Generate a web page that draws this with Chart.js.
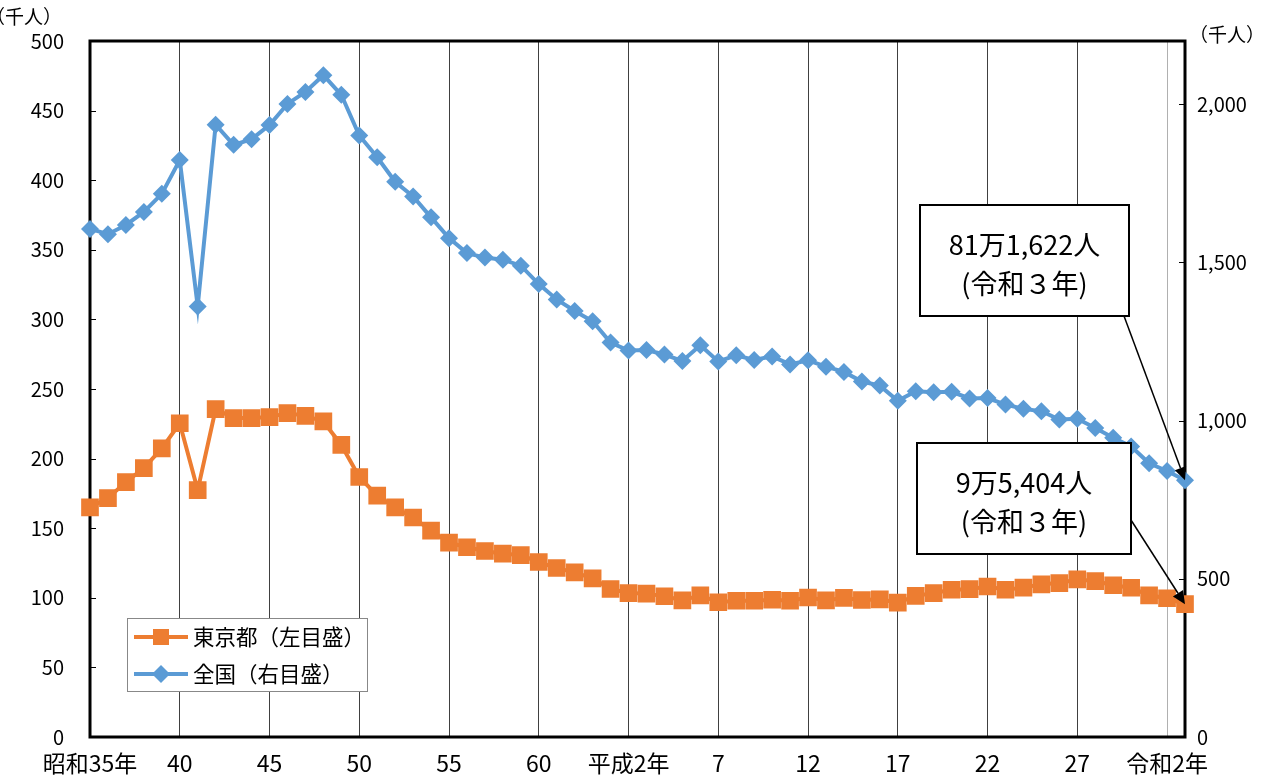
<!DOCTYPE html>
<html>
<head>
<meta charset="utf-8">
<script src="https://cdn.jsdelivr.net/npm/chart.js@4.4.1/dist/chart.umd.min.js"></script>
<style>
  html, body { margin: 0; padding: 0; background: #fff; }
</style>
</head>
<body>
<canvas id="myChart" width="1270" height="778"></canvas>
<script>
// DATA (births, thousand persons)
const years = [1960,1961,1962,1963,1964,1965,1966,1967,1968,1969,
               1970,1971,1972,1973,1974,1975,1976,1977,1978,1979,
               1980,1981,1982,1983,1984,1985,1986,1987,1988,1989,
               1990,1991,1992,1993,1994,1995,1996,1997,1998,1999,
               2000,2001,2002,2003,2004,2005,2006,2007,2008,2009,
               2010,2011,2012,2013,2014,2015,2016,2017,2018,2019,
               2020,2021];

const tickLabels = {1960:'昭和35年',1965:'40',1970:'45',1975:'50',1980:'55',1985:'60',
                    1990:'平成2年',1995:'7',2000:'12',2005:'17',2010:'22',2015:'27',2020:'令和2年'};

const rightTicks = [0, 500, 1000, 1500, 2000];

const tokyo = [165.0,171.6,183.1,193.2,207.3,225.4,177.4,235.6,229.1,229.1,
               229.8,232.7,230.7,226.7,209.8,186.8,173.4,164.9,157.7,148.2,
               139.6,136.3,133.6,131.7,130.7,125.7,121.4,118.3,114.0,106.3,
               103.4,103.0,101.1,98.2,101.8,96.8,97.9,97.9,98.6,97.9,
               100.2,98.2,99.9,98.4,98.9,96.5,101.4,103.4,105.8,106.2,
               108.1,105.8,107.3,109.7,110.6,113.2,112.0,109.0,107.2,101.8,
               99.7,95.4];

const national = [1606.0,1589.4,1618.6,1659.5,1716.8,1823.7,1361.0,1935.6,1871.8,1889.8,
                  1934.2,2001.0,2038.7,2092.0,2030.0,1901.4,1832.6,1755.1,1708.6,1642.6,
                  1576.9,1529.5,1515.4,1508.7,1489.8,1431.6,1382.9,1346.7,1314.0,1246.8,
                  1221.6,1223.2,1209.0,1188.3,1238.3,1187.1,1206.6,1191.7,1203.1,1177.7,
                  1190.5,1170.7,1153.9,1123.6,1110.7,1062.5,1092.7,1089.8,1091.2,1070.0,
                  1071.3,1050.8,1037.2,1029.8,1003.5,1005.7,977.0,946.1,918.4,865.2,
                  840.8,811.6];

const seriesNames = ['東京都（左目盛）', '全国（右目盛）'];
const notes = [['81万1,622人', '(令和３年)'], ['9万5,404人', '(令和３年)']];
const unitLabel = '（千人）';

const ORANGE = '#ED7D31';
const BLUE = '#5B9BD5';
const numFont = "'Liberation Sans Narrow', 'Noto Sans CJK JP', sans-serif";
const jpFont = "'Noto Sans CJK JP', sans-serif";

// frame + inner tick marks
const frame = {
  id: 'frame',
  beforeDatasetsDraw(chart) {
    const { ctx, chartArea: { top, bottom, left, right }, scales: { y, y1 } } = chart;
    ctx.save();
    ctx.strokeStyle = '#000';
    ctx.lineWidth = 1;
    y.ticks.forEach(t => {
      const py = Math.round(y.getPixelForValue(t.value)) + 0.5;
      ctx.beginPath(); ctx.moveTo(left, py); ctx.lineTo(left + 6, py); ctx.stroke();
    });
    y1.ticks.forEach(t => {
      const py = Math.round(y1.getPixelForValue(t.value)) + 0.5;
      ctx.beginPath(); ctx.moveTo(right - 6, py); ctx.lineTo(right, py); ctx.stroke();
    });
    ctx.lineWidth = 3;
    ctx.strokeRect(left, top, right - left, bottom - top);
    ctx.restore();
  }
};

// unit titles, legend box, callouts
const extras = {
  id: 'extras',
  afterDatasetsDraw(chart) {
    const { ctx, chartArea: { top, left, right }, scales: { x, y, y1 } } = chart;
    ctx.save();

    // unit labels
    ctx.fillStyle = '#000';
    ctx.font = '19px ' + jpFont;
    ctx.textBaseline = 'middle';
    ctx.textAlign = 'center';
    ctx.fillText(unitLabel, 24, 17);
    ctx.fillText(unitLabel, 1227, 35);

    // legend
    const lx = 127, ly = 618, lw = 240, lh = 73;
    ctx.fillStyle = '#fff';
    ctx.fillRect(lx, ly, lw, lh);
    ctx.strokeStyle = '#888';
    ctx.lineWidth = 1;
    ctx.strokeRect(lx + 0.5, ly + 0.5, lw, lh);
    const rows = [ly + 19, ly + 56];
    chart.data.datasets.forEach((ds, i) => {
      const ry = rows[i];
      ctx.strokeStyle = ds.borderColor;
      ctx.lineWidth = 4;
      ctx.beginPath(); ctx.moveTo(lx + 7, ry); ctx.lineTo(lx + 61, ry); ctx.stroke();
      ctx.fillStyle = ds.borderColor;
      ctx.beginPath();
      if (i === 0) {
        ctx.rect(lx + 34 - 8, ry - 8, 16, 16);
      } else {
        ctx.moveTo(lx + 34 - 9, ry); ctx.lineTo(lx + 34, ry - 9);
        ctx.lineTo(lx + 34 + 9, ry); ctx.lineTo(lx + 34, ry + 9); ctx.closePath();
      }
      ctx.fill();
      ctx.fillStyle = '#000';
      ctx.font = '21.5px ' + jpFont;
      ctx.textAlign = 'left';
      ctx.fillText(ds.label, lx + 66, ry);
    });

    // callouts
    const last = years.length - 1;
    const boxes = [
      { x: 920, y: 205, w: 209, h: 111, from: [1124, 316],
        tip: [x.getPixelForValue(last), y1.getPixelForValue(national[last])] },
      { x: 917, y: 443, w: 214, h: 111, from: [1131, 520],
        tip: [x.getPixelForValue(last), y.getPixelForValue(tokyo[last])] }
    ];
    boxes.forEach((b, i) => {
      // arrow
      const [fx, fy] = b.from, [tx, ty] = b.tip;
      const ang = Math.atan2(ty - fy, tx - fx);
      const hl = 13, hw = 6;
      const bx = tx - Math.cos(ang) * hl, by = ty - Math.sin(ang) * hl;
      ctx.strokeStyle = '#000';
      ctx.lineWidth = 1.5;
      ctx.beginPath(); ctx.moveTo(fx, fy); ctx.lineTo(bx, by); ctx.stroke();
      ctx.fillStyle = '#000';
      ctx.beginPath();
      ctx.moveTo(tx, ty);
      ctx.lineTo(bx + Math.sin(ang) * hw, by - Math.cos(ang) * hw);
      ctx.lineTo(bx - Math.sin(ang) * hw, by + Math.cos(ang) * hw);
      ctx.closePath(); ctx.fill();
      // box
      ctx.fillStyle = '#fff';
      ctx.fillRect(b.x, b.y, b.w, b.h);
      ctx.lineWidth = 2;
      ctx.strokeRect(b.x, b.y, b.w, b.h);
      ctx.fillStyle = '#000';
      ctx.font = '27px ' + jpFont;
      ctx.textAlign = 'center';
      ctx.textBaseline = 'middle';
      ctx.fillText(notes[i][0], b.x + b.w / 2, b.y + 40);
      ctx.fillText(notes[i][1], b.x + b.w / 2, b.y + 79);
    });
    ctx.restore();
  }
};

const config = {
  type: 'line',
  data: {
    labels: years,
    datasets: [
      {
        label: seriesNames[0],
        data: tokyo,
        yAxisID: 'y',
        borderColor: ORANGE,
        backgroundColor: ORANGE,
        borderWidth: 4,
        pointStyle: 'rect',
        pointRadius: 12.5,
        pointBorderWidth: 0,
        pointHoverRadius: 12.5,
        tension: 0,
      },
      {
        label: seriesNames[1],
        data: national,
        yAxisID: 'y1',
        borderColor: BLUE,
        backgroundColor: BLUE,
        borderWidth: 4,
        pointStyle: 'rectRot',
        pointRadius: 9,
        pointBorderWidth: 0,
        pointHoverRadius: 9,
        tension: 0,
      }
    ]
  },
  options: {
    responsive: false,
    animation: false,
    layout: { padding: { top: 41, left: 0, right: 0, bottom: 0 } },
    plugins: {
      legend: { display: false },
      tooltip: { enabled: false },
    },
    scales: {
      x: {
        type: 'category',
        offset: false,
        grid: {
          drawTicks: false,
          color: (ctx) => {
            const yr = years[ctx.index];
            if (ctx.index === 0 || yr % 5 !== 0) return 'rgba(0,0,0,0)';
            return yr === 2020 ? '#b0b0b0' : '#404040';
          },
          lineWidth: 1,
        },
        border: { display: false },
        ticks: {
          autoSkip: false,
          maxRotation: 0,
          minRotation: 0,
          padding: 12,
          color: '#000',
          font: { family: numFont, size: 23 },
          callback: (value, index) => tickLabels[years[index]] || '',
        },
        afterFit: (s) => { s.height = 41; },
      },
      y: {
        type: 'linear',
        position: 'left',
        min: 0,
        max: 500,
        ticks: {
          stepSize: 50,
          padding: 26,
          color: '#000',
          font: { family: numFont, size: 20 },
        },
        grid: { display: false, drawTicks: false },
        border: { display: false },
        afterFit: (s) => { s.width = 90; },
      },
      y1: {
        type: 'linear',
        position: 'right',
        min: 0,
        max: 2200,
        ticks: {
          autoSkip: false,
          padding: 12,
          color: '#000',
          font: { family: numFont, size: 20 },
          callback: (v) => Number(v).toLocaleString('en-US'),
        },
        afterBuildTicks: (s) => { s.ticks = rightTicks.map(v => ({ value: v })); },
        grid: { display: false, drawTicks: false },
        border: { display: false },
        afterFit: (s) => { s.width = 85; },
      }
    }
  },
  plugins: [frame, extras]
};

const myChart = new Chart(document.getElementById('myChart'), config);
</script>
</body>
</html>
